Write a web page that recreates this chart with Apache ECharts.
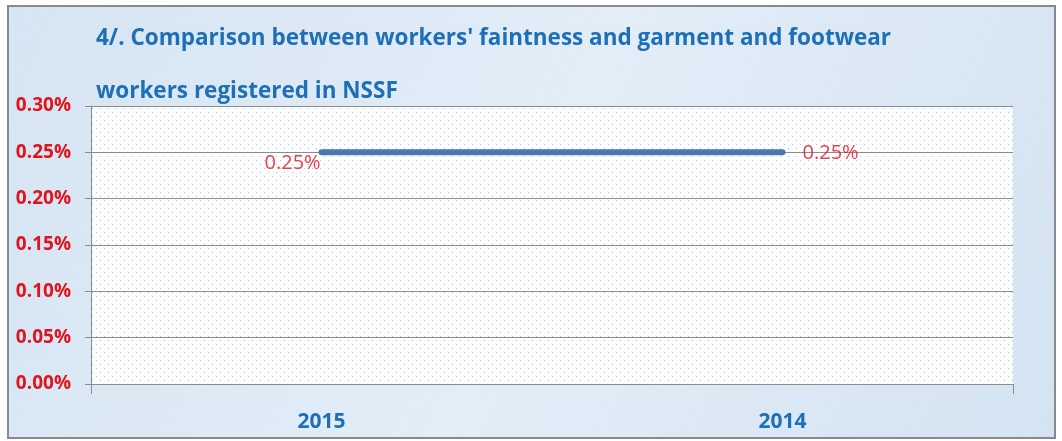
<!DOCTYPE html>
<html><head><meta charset="utf-8">
<script src="https://cdn.jsdelivr.net/npm/echarts@6/dist/echarts.min.js"></script>
<style>html,body{margin:0;padding:0;background:#fff}#c{width:1062px;height:441px}</style>
</head><body><div id="c"></div>
<script>
const categories = ['2015', '2014'];
const values = [0.0025, 0.0025];
const yTicks = [0, 0.0005, 0.001, 0.0015, 0.002, 0.0025, 0.003];
const titleLines = ["4/. Comparison between workers' faintness and garment and footwear", "workers registered in NSSF"];

function dotPattern(){
  const c = document.createElement('canvas');
  c.width = 8; c.height = 8;
  const g = c.getContext('2d');
  g.fillStyle = '#fbfcfd'; g.fillRect(0,0,8,8);
  g.fillStyle = '#b8bcc2'; g.fillRect(0,0,1,1); g.fillRect(4,4,1,1);
  return c;
}
function bgPattern(){
  const c = document.createElement('canvas');
  c.width = 1062; c.height = 441;
  const g = c.getContext('2d');
  const gr = g.createLinearGradient(0,0,1062,441);
  gr.addColorStop(0,'#d6e5f3'); gr.addColorStop(0.5,'#e2edf7'); gr.addColorStop(1,'#d4e3f2');
  g.fillStyle = gr; g.fillRect(0,0,1062,441);
  return c;
}
const chart = echarts.init(document.getElementById('c'), null, {renderer:'canvas'});
const font = 'Open Sans';
chart.setOption({
  backgroundColor: '#ffffff',
  animation: false,
  graphic: [
    {type:'rect', shape:{x:8,y:6,width:1047,height:432}, style:{fill:{image:bgPattern(), repeat:'no-repeat'}, stroke:'#8a8a8a', lineWidth:2}, z:-10, silent:true},
    {type:'rect', shape:{x:91,y:106,width:922,height:278}, style:{fill:{image:dotPattern(), repeat:'repeat'}}, z:-5, silent:true},
    {type:'text', left:96, top:27, style:{text:titleLines[0], fill:'#1d6fb8', font:'bold 22.5px "'+font+'"'}},
    {type:'text', left:96, top:80, style:{text:titleLines[1], fill:'#1d6fb8', font:'bold 22.5px "'+font+'"'}}
  ],
  grid: {left:91, right:49, top:106, bottom:57, containLabel:false},
  xAxis: {
    type:'category', data:categories, boundaryGap:true,
    axisLine:{show:true, lineStyle:{color:'#8c8c8c', width:1}},
    axisTick:{show:true, length:10, interval:(i)=> i===0, lineStyle:{color:'#8c8c8c'}},
    axisLabel:{color:'#1d6fb8', fontWeight:'bold', fontSize:21, fontFamily:font, margin:28}
  },
  yAxis: {
    type:'value', min:0, max:0.003, interval:0.0005,
    axisLine:{show:true, onZero:false, lineStyle:{color:'#8c8c8c'}},
    axisTick:{show:true, length:6, lineStyle:{color:'#8c8c8c'}},
    splitLine:{show:true, lineStyle:{color:'#8c8c8c', width:1}},
    axisLabel:{color:'#e0141e', fontWeight:'bold', fontSize:19, fontFamily:font, margin:20,
      formatter:v => (v*100).toFixed(2)+'%'}
  },
  series: [{
    type:'line', data:values, symbol:'none',
    lineStyle:{color:'#4a76b2', width:6, cap:'round'},
    label:{show:false}
  },{
    type:'scatter', data:[{value:values[0], label:{position:[-57,1]}},{value:values[1], label:{position:[20,-9]}}],
    symbolSize:0,
    label:{show:true, color:'#e0141e', fontSize:20, fontFamily:font,
      formatter:p => (p.value*100).toFixed(2)+'%'}
  }]
});
</script></body></html>
